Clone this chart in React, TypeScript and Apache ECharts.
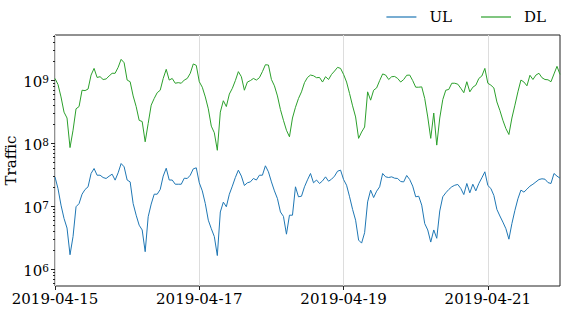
import { useEffect, useRef } from "react";
import * as echarts from "echarts";

const FONT = "DejaVu Serif";
const START = "2019-04-15T00:00:00Z";
const END = "2019-04-22T00:00:00Z";
const STEP_HOURS = 1;

const X_TICKS = ["2019-04-15", "2019-04-17", "2019-04-19", "2019-04-21"];
const Y_MAJOR = [1e6, 1e7, 1e8, 1e9];
const Y_MINOR = [
  6e5, 7e5, 8e5, 9e5,
  2e6, 3e6, 4e6, 5e6, 6e6, 7e6, 8e6, 9e6,
  2e7, 3e7, 4e7, 5e7, 6e7, 7e7, 8e7, 9e7,
  2e8, 3e8, 4e8, 5e8, 6e8, 7e8, 8e8, 9e8,
  2e9, 3e9, 4e9, 5e9,
];
const Y_MIN = 5.43e5;
const Y_MAX = 5.18e9;

const UL = [
  2.9e7, 1.9e7, 1.04e7, 6.4e6, 4.5e6, 1.7e6, 3.3e6, 9.8e6, 1.1e7, 1.55e7,
  1.84e7, 2.03e7, 3.3e7, 3.96e7, 3.1e7, 3.1e7, 2.85e7, 2.75e7, 2.99e7, 3.22e7,
  2.59e7, 3.38e7, 4.75e7, 4.21e7, 2.6e7, 2.43e7, 1.1e7, 7.2e6, 5.0e6, 4.2e6,
  1.9e6, 6.8e6, 1.08e7, 1.55e7, 1.55e7, 1.84e7, 3.0e7, 4.0e7, 2.6e7, 2.6e7,
  2.23e7, 2.23e7, 2.23e7, 2.78e7, 2.75e7, 3.1e7, 3.91e7, 4.06e7, 2.35e7, 1.75e7,
  1.1e7, 6.0e6, 4.4e6, 3.3e6, 1.65e6, 8.1e6, 1.16e7, 9.8e6, 1.55e7, 2.08e7,
  2.85e7, 3.73e7, 3.0e7, 2.13e7, 2.35e7, 2.43e7, 2.75e7, 2.6e7, 3.1e7, 3.1e7,
  4.37e7, 3.51e7, 2.43e7, 1.75e7, 1.32e7, 8.1e6, 6.9e6, 3.6e6, 7.2e6, 7.2e6,
  2.03e7, 1.41e7, 1.44e7, 2.03e7, 2.62e7, 3.3e7, 2.35e7, 2.6e7, 2.29e7, 2.52e7,
  2.92e7, 2.49e7, 2.68e7, 3.0e7, 3.59e7, 3.73e7, 2.65e7, 2.15e7, 1.41e7, 8.9e6,
  6.0e6, 2.9e6, 2.6e6, 3.8e6, 1.17e7, 1.8e7, 1.37e7, 1.73e7, 2.03e7, 3.3e7,
  2.92e7, 2.85e7, 2.92e7, 2.78e7, 2.75e7, 2.46e7, 2.43e7, 3.07e7, 2.65e7, 2.08e7,
  1.41e7, 1.44e7, 1.04e7, 5.3e6, 4.2e6, 2.7e6, 4.2e6, 3.1e6, 8.4e6, 1.41e7,
  1.63e7, 1.84e7, 2.03e7, 2.15e7, 2.21e7, 1.91e7, 1.53e7, 2.29e7, 1.63e7, 2.23e7,
  1.75e7, 2.29e7, 2.82e7, 3.51e7, 2.13e7, 1.91e7, 1.48e7, 8.9e6, 7.0e6, 5.6e6,
  4.4e6, 3.0e6, 5.3e6, 8.6e6, 1.31e7, 1.8e7, 1.67e7, 1.86e7, 2.08e7, 2.23e7,
  2.43e7, 2.65e7, 2.72e7, 2.68e7, 2.37e7, 2.29e7, 3.3e7, 3.0e7, 2.78e7,
];

const DL = [
  1.06e9, 8.5e8, 5.4e8, 3.1e8, 2.5e8, 8.5e7, 1.6e8, 3.5e8, 3.8e8, 6.9e8,
  6.8e8, 7.2e8, 1.2e9, 1.53e9, 1.1e9, 1.13e9, 1.02e9, 1.04e9, 1.16e9, 1.28e9,
  1.28e9, 1.59e9, 2.13e9, 1.88e9, 1.0e9, 9.4e8, 5.6e8, 3.8e8, 2.3e8, 2.2e8,
  1.05e8, 2.05e8, 4.0e8, 5.1e8, 6.3e8, 6.9e8, 1.06e9, 1.48e9, 1.0e9, 1.06e9,
  8.9e8, 9.1e8, 8.9e8, 1.0e9, 1.06e9, 1.28e9, 1.8e9, 1.71e9, 9.4e8, 7.7e8,
  5.4e8, 3.5e8, 1.86e8, 1.46e8, 7.7e7, 3.1e8, 4.7e8, 3.8e8, 6.0e8, 7.4e8,
  9.8e8, 1.36e9, 1.13e9, 6.9e8, 9.3e8, 9.8e8, 1.06e9, 1.0e9, 1.09e9, 1.36e9,
  1.75e9, 1.73e9, 1.02e9, 8.1e8, 5.6e8, 3.4e8, 2.3e8, 1.6e8, 1.26e8, 2.5e8,
  3.7e8, 5.1e8, 6.5e8, 9.1e8, 1.1e9, 1.2e9, 1.17e9, 1.09e9, 1.1e9, 9.3e8,
  1.13e9, 1.02e9, 1.23e9, 1.39e9, 1.59e9, 1.53e9, 1.23e9, 9.3e8, 6.1e8, 3.9e8,
  2.6e8, 1.19e8, 1.5e8, 1.8e8, 6.5e8, 4.8e8, 6.9e8, 7.5e8, 9.8e8, 1.25e9,
  1.2e9, 1.02e9, 1.13e9, 1.14e9, 1.06e9, 9.3e8, 1.02e9, 1.19e9, 1.2e9, 9.8e8,
  7.7e8, 7.7e8, 7.8e8, 5.1e8, 2.6e8, 1.19e8, 3.0e8, 9.3e7, 2.5e8, 4.9e8,
  6.9e8, 7.1e8, 8.9e8, 8.9e8, 8.6e8, 7.4e8, 6.3e8, 9.4e8, 6.5e8, 7.7e8,
  8.3e8, 1.06e9, 1.16e9, 1.53e9, 8.9e8, 8.3e8, 7.5e8, 4.5e8, 3.3e8, 2.3e8,
  1.7e8, 1.37e8, 2.5e8, 4.0e8, 6.5e8, 1.0e9, 9.3e8, 8.1e8, 1.19e9, 1.02e9,
  1.2e9, 1.28e9, 1.09e9, 1.02e9, 1.01e9, 9.4e8, 1.25e9, 1.65e9, 1.23e9,
];

const t0 = Date.parse(START);
const t1 = Date.parse(END);
const HOUR_MS = 3600 * 1000;
const toPairs = (vals: number[]) => vals.map((v, i) => [t0 + i * STEP_HOURS * HOUR_MS, v]);
const xTickValues = X_TICKS.map((d) => Date.parse(d + "T00:00:00Z"));

export default function App() {
  const ref = useRef<HTMLDivElement>(null);
  useEffect(() => {
    const chart = echarts.init(ref.current!, null, { renderer: "svg" });
    chart.setOption({
      animation: false,
      backgroundColor: "#ffffff",
      grid: {
        left: 55,
        top: 35,
        right: 5,
        bottom: 26,
        containLabel: false,
        outerBoundsMode: "none",
        show: true,
        borderColor: "#222222",
        borderWidth: 1,
        backgroundColor: "transparent",
      },
      legend: {
        data: ["UL", "DL"],
        right: 19,
        top: 8,
        padding: 0,
        icon: "rect",
        itemWidth: 30,
        itemHeight: 1.2,
        itemGap: 29,
        textStyle: { fontSize: 15, fontFamily: FONT, color: "#000", padding: [0, 0, 0, 8], lineHeight: 18 },
      },
      xAxis: {
        type: "value",
        min: t0,
        max: t1,
        interval: 2 * 24 * HOUR_MS,
        axisLine: { show: false },
        axisTick: { customValues: xTickValues, length: 4, lineStyle: { color: "#222" } },
        axisLabel: {
          customValues: xTickValues,
          fontSize: 15,
          fontFamily: FONT,
          color: "#000",
          margin: 5,
          formatter: (v: number) => new Date(v).toISOString().slice(0, 10),
        },
        splitLine: { show: true, lineStyle: { color: "#dddddd", width: 1 } },
      },
      yAxis: [
        {
          type: "log",
          logBase: 10,
          min: Y_MIN,
          max: Y_MAX,
          axisLine: { show: false },
          axisTick: { customValues: Y_MAJOR, length: 4, lineStyle: { color: "#222" } },
          axisLabel: {
            customValues: Y_MAJOR,
            margin: 6,
            padding: [3, 0, 0, 0],
            formatter: (v: number) => `{b|10}{s|${Math.round(Math.log10(v))}}`,
            rich: {
              b: { fontSize: 15, fontFamily: FONT, color: "#000", lineHeight: 17 },
              s: { fontSize: 10.5, fontFamily: FONT, color: "#000", lineHeight: 10, verticalAlign: "top" },
            },
          },
          splitLine: { show: false },
          name: "Traffic",
          nameLocation: "middle",
          nameGap: 37,
          nameMoveOverlap: false,
          nameTextStyle: { fontSize: 15, fontFamily: FONT, color: "#000" },
        },
        {
          type: "log",
          logBase: 10,
          min: Y_MIN,
          max: Y_MAX,
          position: "left",
          axisLine: { show: false },
          axisLabel: { show: false },
          axisTick: { customValues: Y_MINOR, length: 2, lineStyle: { color: "#222" } },
          splitLine: { show: false },
        },
      ],
      series: [
        {
          name: "UL",
          type: "line",
          data: toPairs(UL),
          symbol: "none",
          showSymbol: false,
          lineStyle: { width: 1, color: "#1f77b4" },
          itemStyle: { color: "#1f77b4" },
        },
        {
          name: "DL",
          type: "line",
          data: toPairs(DL),
          symbol: "none",
          showSymbol: false,
          lineStyle: { width: 1, color: "#2ca02c" },
          itemStyle: { color: "#2ca02c" },
        },
      ],
    });
    return () => chart.dispose();
  }, []);
  return (
    <div
      ref={ref}
      style={{ position: "absolute", left: 0, top: 0, width: 565, height: 312 }}
    />
  );
}
